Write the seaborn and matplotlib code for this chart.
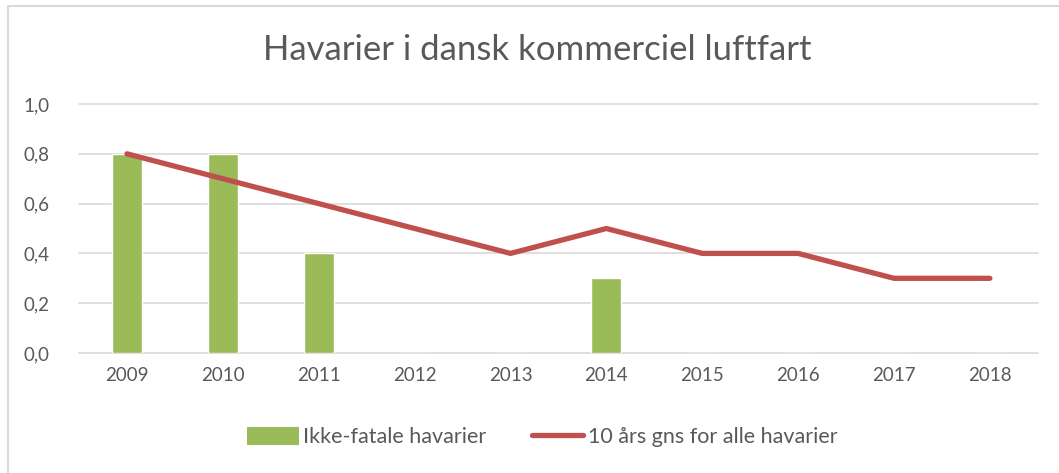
import numpy as np
import matplotlib
matplotlib.use("Agg")
import matplotlib.pyplot as plt
import seaborn as sns
from matplotlib.lines import Line2D
from matplotlib.patches import Patch

# --- data ---
years = ["2009", "2010", "2011", "2012", "2013", "2014", "2015", "2016", "2017", "2018"]
ikke_fatale = [0.8, 0.8, 0.4, 0.0, 0.0, 0.3, 0.0, 0.0, 0.0, 0.0]
gns_10aar = [0.8, 0.7, 0.6, 0.5, 0.4, 0.5, 0.4, 0.4, 0.3, 0.3]
y_ticks = [0.0, 0.2, 0.4, 0.6, 0.8, 1.0]

GREEN = "#9BBB59"
RED = "#C0504D"
TXT = "#595959"
GRID = "#D9D9D9"

sns.set_theme(style="white")
plt.rcParams["font.family"] = ["Lato", "DejaVu Sans"]

fig = plt.figure(figsize=(10.59, 4.73), dpi=100)
ax = fig.add_axes([0.0746, 0.2537, 0.9054, 0.5264])

sns.barplot(x=years, y=ikke_fatale, color=GREEN, width=0.31, saturation=1, ax=ax, zorder=2)
sns.lineplot(x=np.arange(len(years)), y=gns_10aar, color=RED, linewidth=3.8,
             solid_capstyle="round", ax=ax, zorder=3)

ax.set_xlim(-0.5, len(years) - 0.5)
ax.set_ylim(0, 1.0)
ax.set_yticks(y_ticks)
ax.set_yticklabels([f"{v:.1f}".replace(".", ",") for v in y_ticks])
ax.set_xticks(np.arange(len(years)))
ax.set_xticklabels(years)
ax.tick_params(axis="both", colors=TXT, labelsize=13.5, length=0)
ax.tick_params(axis="y", pad=21)
ax.tick_params(axis="x", pad=10)
for v in y_ticks:
    ax.axhline(v, color=GRID, linewidth=1.2, zorder=0, clip_on=False)
for s in ax.spines.values():
    s.set_visible(False)
ax.set_xlabel("")
ax.set_ylabel("")

fig.text(0.5077, 0.894, "Havarier i dansk kommerciel luftfart", ha="center", va="center",
         fontsize=25, color=TXT)

handles = [Patch(facecolor=GREEN, edgecolor="none"),
           Line2D([0], [0], color=RED, linewidth=3.8, solid_capstyle="round")]
fig.legend(handles, ["Ikke-fatale havarier", "10 års gns for alle havarier"],
           loc="center", bbox_to_anchor=(0.512, 0.076), ncol=2, frameon=False,
           fontsize=15.5, labelcolor=TXT, handlelength=2.4, handleheight=0.9,
           handletextpad=0.2, columnspacing=2.1)

# chart border (top and left visible)
fig.add_artist(Line2D([8 / 1059, 8 / 1059], [0, 1 - 6 / 473], color=GRID, linewidth=1.5))
fig.add_artist(Line2D([8 / 1059, 1], [1 - 6 / 473, 1 - 6 / 473], color=GRID, linewidth=1.5))

fig.savefig("out.png", dpi=100)
